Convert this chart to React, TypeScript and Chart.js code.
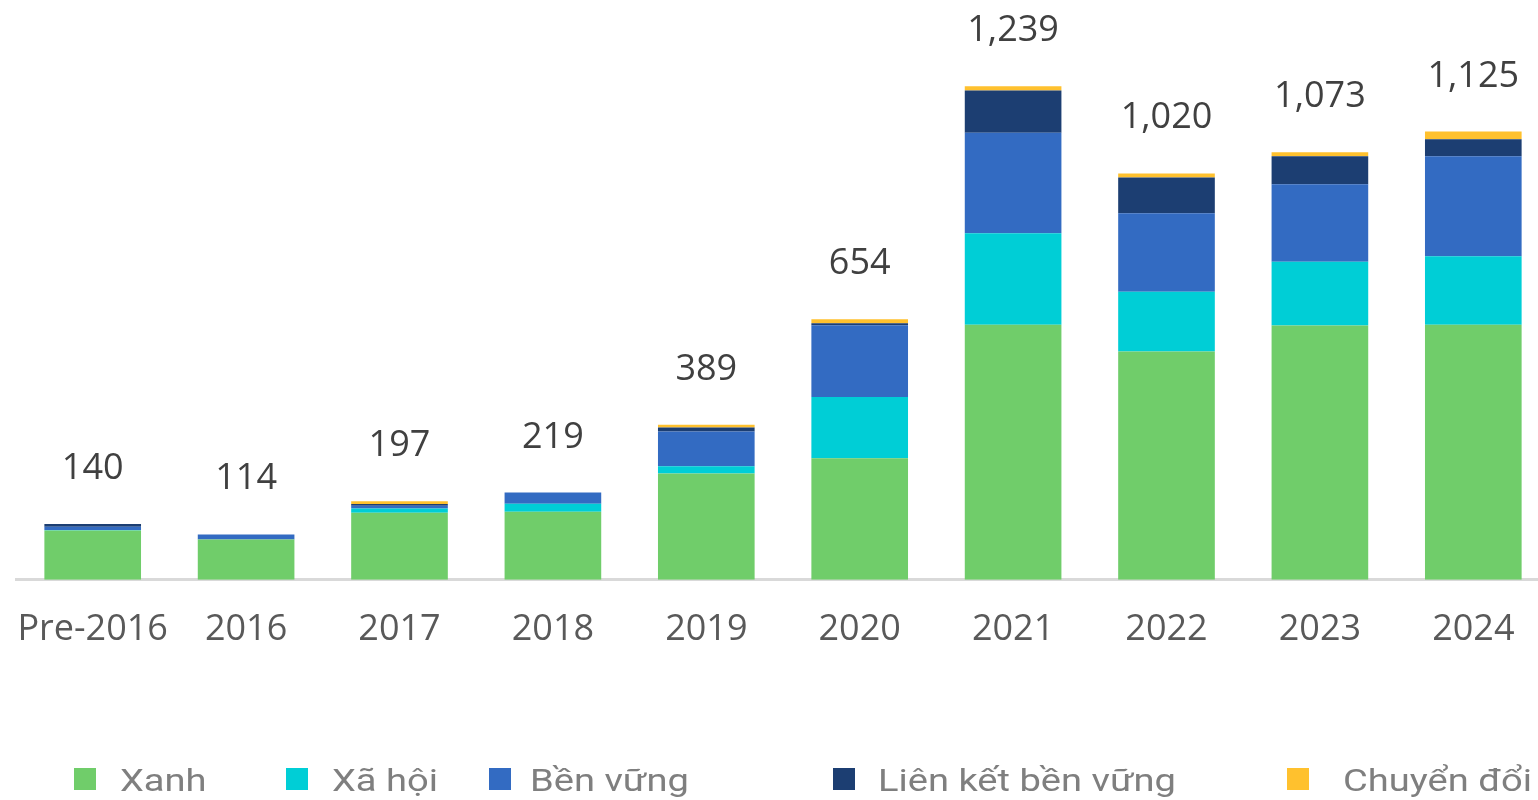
import React, { useEffect, useRef } from "react";
import { Chart, registerables } from "chart.js";

Chart.register(...registerables);

const categories = ["Pre-2016", "2016", "2017", "2018", "2019", "2020", "2021", "2022", "2023", "2024"];
const seriesNames = ["Xanh", "Xã hội", "Bền vững", "Liên kết bền vững", "Chuyển đổi"];
const xanh = [124, 101, 168, 171, 267, 305, 640, 573, 638, 640];
const xaHoi = [1, 0, 11, 20, 18, 154, 230, 150, 160, 172];
const benVung = [8, 13, 7, 28, 87, 180, 252, 197, 195, 251];
const lienKet = [7, 0, 4, 0, 10, 5, 106, 90, 70, 43];
const chuyenDoi = [0, 0, 7, 0, 7, 10, 11, 10, 10, 19];
const colors = ["#70CD6A", "#00CED6", "#336BC2", "#1C3E72", "#FFC12E"];

const legendSquareX = [74, 286, 489, 833, 1287];
const legendTextX = [120, 332, 530, 878, 1343];

const totalsPlugin = {
  id: "totals",
  afterDatasetsDraw(chart: any) {
    const { ctx, scales } = chart;
    const ds = chart.data.datasets;
    ctx.save();
    ctx.font = "36px 'Open Sans'";
    ctx.fillStyle = "#404040";
    ctx.textAlign = "center";
    ctx.textBaseline = "alphabetic";
    categories.forEach((_, i) => {
      const total = ds.reduce((s: number, d: any) => s + d.data[i], 0);
      const x = scales.x.getPixelForValue(i);
      const y = scales.y.getPixelForValue(total);
      ctx.fillText(total.toLocaleString("en-US"), x, y - 45);
    });
    ctx.restore();
  },
};

const legendPlugin = {
  id: "customLegend",
  afterDraw(chart: any) {
    const { ctx } = chart;
    ctx.save();
    ctx.textBaseline = "alphabetic";
    ctx.textAlign = "left";
    chart.data.datasets.forEach((d: any, i: number) => {
      ctx.fillStyle = d.backgroundColor;
      ctx.fillRect(legendSquareX[i], 768, 22, 22);
      ctx.save();
      ctx.translate(legendTextX[i], 791);
      ctx.scale(1.19, 1);
      ctx.font = "32px Roboto";
      ctx.fillStyle = "#7F7F7F";
      ctx.fillText(d.label, 0, 0);
      ctx.restore();
    });
    ctx.restore();
  },
};

export default function App() {
  const ref = useRef<HTMLCanvasElement>(null);
  useEffect(() => {
    if (!ref.current) return;
    const values = [xanh, xaHoi, benVung, lienKet, chuyenDoi];
    const chart = new Chart(ref.current, {
      type: "bar",
      data: {
        labels: categories,
        datasets: values.map((v, i) => ({
          label: seriesNames[i],
          data: v,
          backgroundColor: colors[i],
          borderWidth: 0,
          barPercentage: 1,
          categoryPercentage: 0.63,
        })),
      },
      options: {
        responsive: false,
        animation: false,
        layout: { padding: { left: 16, right: 10, top: 22, bottom: 121 } },
        plugins: { legend: { display: false }, tooltip: { enabled: false } },
        scales: {
          x: {
            stacked: true,
            grid: { display: false, drawTicks: false, tickLength: 0 },
            border: { display: true, color: "#D9D9D9", width: 3 },
            ticks: {
              padding: 28,
              color: "#595959",
              font: { family: "'Open Sans'", size: 36 },
              maxRotation: 0,
              autoSkip: false,
            },
            afterFit(scale: any) {
              scale.paddingLeft = 0;
              scale.paddingRight = 0;
            },
          },
          y: {
            stacked: true,
            display: false,
            min: 0,
            max: 1400,
          },
        },
      },
      plugins: [totalsPlugin, legendPlugin],
    });
    return () => chart.destroy();
  }, []);
  return (
    <div style={{ position: "absolute", left: 0, top: 0, width: 1538, height: 800, overflow: "hidden", background: "#fff" }}>
      <canvas ref={ref} width={1560} height={800} style={{ width: 1560, height: 800 }} />
    </div>
  );
}
